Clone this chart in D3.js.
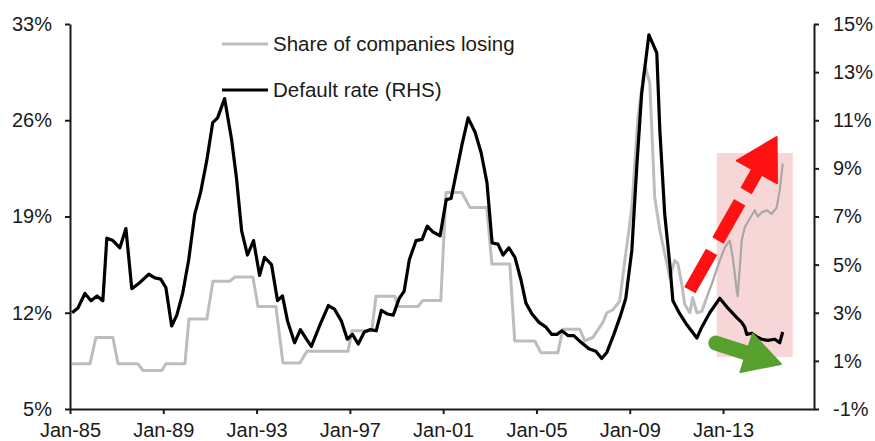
<!DOCTYPE html>
<html>
<head>
<meta charset="utf-8">
<script src="https://cdn.jsdelivr.net/npm/d3@7"></script>
<style>
  body { margin: 0; background: #fff; }
  svg { display: block; font-family: "Liberation Sans", Arial, sans-serif; }
  .axis path, .axis line { stroke: #1a1a1a; stroke-width: 2; }
  .axis text { fill: #1a1a1a; font-size: 20px; }
</style>
</head>
<body>
<svg id="svg"></svg>
<script>
// share of companies losing (LHS, %) -- step-like series, decimal years
var shareYears = [1985.09,1985.86,1986.11,1986.84,1987.06,1987.91,1988.13,1988.94,1989.11,1989.93,
  1990.10,1990.87,1991.13,1991.86,1992.07,1992.84,1993.06,1993.83,1994.13,1994.86,
  1995.16,1996.92,1997.09,1997.94,1998.12,1998.93,1999.06,1999.92,2000.13,2000.90,
  2001.12,2001.80,2002.15,2002.87,2003.09,2003.86,2004.07,2004.93,2005.19,2005.92,
  2006.13,2006.86,2007.07,2007.42,2007.85,2008.02,2008.27,2008.57,2008.79,2009.09,
  2009.35,2009.65,2009.86,2010.07,2010.29,2010.50,2010.72,2010.93,2011.06,2011.23,
  2011.36,2011.58,2011.70,2011.88,2012.09,2012.30,2012.52,2012.86,2013.08,2013.29,
  2013.42,2013.59,2013.63,2013.80,2013.93,2014.15,2014.36,2014.49,2014.66,2014.88,
  2015.09,2015.30,2015.43,2015.56];
var shareValues = [8.3,8.3,10.2,10.2,8.3,8.3,7.8,7.8,8.3,8.3,
  11.55,11.55,14.3,14.3,14.6,14.6,12.45,12.45,8.35,8.35,
  9.2,9.2,10.7,10.7,13.2,13.2,12.45,12.45,12.9,12.9,
  20.75,20.75,19.65,19.65,15.55,15.55,9.95,9.95,9.1,9.1,
  10.8,10.8,9.95,10.2,11.3,12.0,12.2,12.85,15.8,19.65,
  26.2,30.0,28.7,20.4,18.0,16.3,14.55,15.8,15.6,14.1,
  12.6,12.0,13.1,12.0,12.1,13.1,14.1,15.8,16.75,17.25,
  16.0,13.6,13.2,17.25,18.2,18.85,19.45,19.0,19.3,19.45,
  19.2,19.65,20.9,22.85];

// default rate (RHS, %)
var defaultYears = [1985.09,1985.34,1985.64,1985.90,1986.16,1986.41,1986.58,1986.84,1987.14,1987.40,
  1987.65,1987.99,1988.38,1988.64,1988.89,1989.11,1989.36,1989.58,1989.83,1990.09,
  1990.35,1990.60,1990.86,1991.12,1991.33,1991.63,1991.93,1992.14,1992.36,1992.61,
  1992.87,1993.13,1993.34,1993.64,1993.90,1994.11,1994.33,1994.63,1994.88,1995.14,
  1995.35,1995.70,1996.08,1996.34,1996.64,1996.89,1997.11,1997.36,1997.62,1997.88,
  1998.13,1998.35,1998.60,1998.86,1999.12,1999.33,1999.55,1999.84,2000.10,2000.32,
  2000.57,2000.87,2001.13,2001.34,2001.56,2001.81,2002.07,2002.37,2002.63,2002.88,
  2003.10,2003.35,2003.57,2003.82,2004.08,2004.34,2004.55,2004.81,2005.11,2005.41,
  2005.66,2005.88,2006.09,2006.35,2006.60,2006.82,2007.25,2007.55,2007.80,2008.02,
  2008.32,2008.61,2008.83,2009.09,2009.30,2009.51,2009.82,2010.16,2010.29,2010.50,
  2010.72,2010.85,2011.15,2011.45,2011.88,2012.09,2012.43,2012.86,2013.20,2013.59,
  2013.80,2013.93,2014.02,2014.23,2014.45,2014.66,2014.92,2015.22,2015.43,2015.56];
var defaultRate = [3.0,3.2,3.8,3.5,3.7,3.5,6.1,6.0,5.7,6.5,
  4.0,4.25,4.6,4.45,4.4,4.05,2.45,2.9,3.8,5.2,
  7.1,8.0,9.3,10.9,11.1,11.9,10.2,8.6,6.4,5.4,
  6.0,4.55,5.3,5.0,3.5,3.7,2.65,1.75,2.3,1.9,
  1.6,2.45,3.3,3.15,2.65,1.9,2.1,1.7,2.2,2.3,
  2.25,3.1,2.95,2.9,3.6,3.9,5.2,6.0,6.05,6.6,
  6.35,6.2,7.7,7.75,8.8,10.0,11.1,10.5,9.65,8.4,
  5.9,5.85,5.4,5.7,5.3,4.35,3.4,2.95,2.6,2.4,
  2.1,2.1,2.25,2.05,2.05,1.85,1.5,1.4,1.1,1.35,
  2.1,2.9,3.6,5.6,9.05,12.1,14.55,13.8,10.6,7.1,
  5.0,3.5,2.95,2.5,1.95,2.4,3.0,3.6,3.2,2.8,
  2.6,2.4,2.1,2.15,2.0,1.9,1.85,1.9,1.75,2.2];

var leftTicks = [5,12,19,26,33];
var rightTicks = [-1,1,3,5,7,9,11,13,15];
var tickYears = [1985,1989,1993,1997,2001,2005,2009,2013];
var legendLabels = ["Share of companies losing","Default rate (RHS)"];

// annotation anchors: [year, RHS %]
var boxCorners = [[2012.73, 9.64],[2015.99, 1.16]];
var upArrow = [[2011.58, 3.94],[2015.30, 10.30]];
var downArrow = [[2012.69, 1.74],[2015.48, 0.87]];
var thinFrom = 2012.3; // share series drawn thinner from here on (finer data)

var W = 875, H = 441;
var pLeft = 70, pRight = 814, pTop = 24, pBottom = 409;

function yd(y){
  var yr = Math.floor(y);
  var a = new Date(yr,0,1), b = new Date(yr+1,0,1);
  return new Date(+a + (y-yr)*(b-a));
}

var svg = d3.select("#svg").attr("width", W).attr("height", H);

var x = d3.scaleTime().domain([yd(1985), yd(2016.9)]).range([pLeft, pRight]);
var yL = d3.scaleLinear().domain([5,33]).range([pBottom, pTop]);
var yR = d3.scaleLinear().domain([-1,15]).range([pBottom, pTop]);

// pink highlight box
svg.append("rect")
  .attr("x", x(yd(boxCorners[0][0])))
  .attr("y", yR(boxCorners[0][1]))
  .attr("width", x(yd(boxCorners[1][0])) - x(yd(boxCorners[0][0])))
  .attr("height", yR(boxCorners[1][1]) - yR(boxCorners[0][1]))
  .attr("fill", "#f6d6d7");

var shareData = shareYears.map((d,i)=>({y: d, t: yd(d), v: shareValues[i]}));
var defData = defaultYears.map((d,i)=>({t: yd(d), v: defaultRate[i]}));

var lineL = d3.line().x(d=>x(d.t)).y(d=>yL(d.v));
var cut = shareData.findIndex(d=>d.y >= thinFrom);

svg.append("path")
  .datum(shareData.slice(0, cut+1))
  .attr("fill","none")
  .attr("stroke","#bdbdbd")
  .attr("stroke-width",3)
  .attr("stroke-linejoin","round")
  .attr("d", lineL);

svg.append("path")
  .datum(shareData.slice(cut))
  .attr("fill","none")
  .attr("stroke","#aaa6a6")
  .attr("stroke-width",2.2)
  .attr("stroke-linejoin","round")
  .attr("d", lineL);

svg.append("path")
  .datum(defData)
  .attr("fill","none")
  .attr("stroke","#000")
  .attr("stroke-width",3.2)
  .attr("stroke-linejoin","round")
  .attr("d", d3.line().x(d=>x(d.t)).y(d=>yR(d.v)));

// arrows
function arrow(pts, color, width, headLen, headHalf, dash){
  var x0 = x(yd(pts[0][0])), y0 = yR(pts[0][1]);
  var x1 = x(yd(pts[1][0])), y1 = yR(pts[1][1]);
  var dx = x1-x0, dy = y1-y0, len = Math.sqrt(dx*dx+dy*dy);
  var ux = dx/len, uy = dy/len, px = -uy, py = ux;
  var bx = x1 - ux*headLen, by = y1 - uy*headLen;
  var g = svg.append("g");
  g.append("line")
    .attr("x1", x0).attr("y1", y0)
    .attr("x2", bx + ux*2).attr("y2", by + uy*2)
    .attr("stroke", color)
    .attr("stroke-width", width)
    .attr("stroke-linecap", dash ? "butt" : "round")
    .attr("stroke-dasharray", dash || null);
  g.append("path")
    .attr("d", `M${x1},${y1}L${bx+px*headHalf},${by+py*headHalf}L${bx-px*headHalf},${by-py*headHalf}Z`)
    .attr("fill", color)
    .attr("stroke", color)
    .attr("stroke-width", 2)
    .attr("stroke-linejoin","round");
}
arrow(upArrow, "#ff1111", 13, 40, 23, "44,13");
arrow(downArrow, "#58a12f", 15, 36, 20, null);

// axes
svg.append("g")
  .attr("class","axis")
  .attr("transform", `translate(${pLeft},0)`)
  .call(d3.axisLeft(yL).tickValues(leftTicks).tickFormat(d=>d+"%").tickSize(5).tickSizeOuter(0).tickPadding(13));

svg.append("g")
  .attr("class","axis")
  .attr("transform", `translate(${pRight},0)`)
  .call(d3.axisRight(yR).tickValues(rightTicks).tickFormat(d=>d+"%").tickSize(5).tickSizeOuter(0).tickPadding(14));

svg.append("g")
  .attr("class","axis")
  .attr("transform", `translate(0,${pBottom})`)
  .call(d3.axisBottom(x).tickValues(tickYears.map(d=>new Date(d,0,1))).tickFormat(d3.timeFormat("%b-%y")).tickSize(5).tickSizeOuter(0).tickPadding(9));

// legend
var leg = svg.append("g").attr("class","legend");
var legColors = ["#bdbdbd","#000"];
var legY = [44, 90];
legendLabels.forEach(function(lbl,i){
  leg.append("line")
    .attr("x1",222).attr("x2",268)
    .attr("y1",legY[i]).attr("y2",legY[i])
    .attr("stroke",legColors[i])
    .attr("stroke-width",3.2);
  leg.append("text")
    .attr("x",273).attr("y",legY[i])
    .attr("dy","0.36em")
    .style("font-size","20.5px")
    .attr("fill","#1a1a1a")
    .text(lbl);
});
</script>
</body>
</html>
